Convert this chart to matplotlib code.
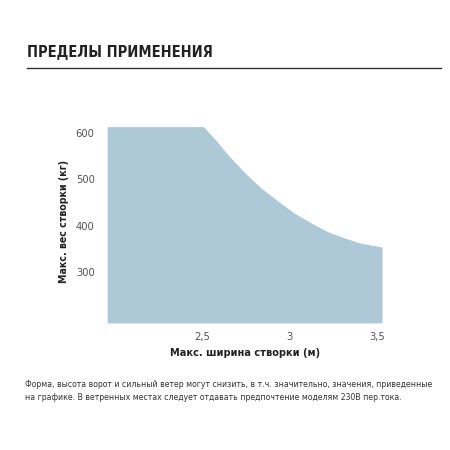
import matplotlib
matplotlib.use("Agg")
import matplotlib.pyplot as plt

# ── data ────────────────────────────────────────────────────────────────────
WIDTH_M = [1.96, 2.51, 2.58, 2.65, 2.75, 2.84, 2.94, 3.03, 3.13, 3.22, 3.32,
           3.41, 3.53]
WEIGHT_KG = [614, 614, 585, 553, 513, 481, 452, 427, 405, 387, 373, 362, 354]
FLOOR_KG = 190

X_TICKS = [2.5, 3.0, 3.5]
X_TICK_LABELS = ["2,5", "3", "3,5"]
Y_TICKS = [300, 400, 500, 600]
Y_TICK_LABELS = ["300", "400", "500", "600"]

plt.rcParams["font.family"] = ["DejaVu Sans"]
plt.rcParams["font.stretch"] = "condensed"

fig = plt.figure(figsize=(4.5, 4.5), dpi=100)

# ── title + rule ────────────────────────────────────────────────────────────
fig.text(27 / 450, 1 - 53 / 450, "ПРЕДЕЛЫ ПРИМЕНЕНИЯ", ha="left", va="center",
         fontsize=10.5, fontweight="bold", color="#222222")
fig.add_artist(plt.Line2D([27 / 450, 441 / 450], [1 - 68 / 450, 1 - 68 / 450],
                          color="#333333", linewidth=1.0))

# ── chart area ──────────────────────────────────────────────────────────────
# x: 2.5 -> 201.7px, 3.5 -> 376.7px ; y: 600 -> 133px, 300 -> 272px
x0, x1 = 1.90, 3.60
y0, y1 = 180, 640
px = lambda v: 201.7 + (v - 2.5) * 175
py = lambda v: 272 - (v - 300) * 0.463
left, right = px(x0) / 450, px(x1) / 450
bottom, top = 1 - py(y0) / 450, 1 - py(y1) / 450
ax = fig.add_axes([left, bottom, right - left, top - bottom])

ax.fill_between(WIDTH_M, WEIGHT_KG, FLOOR_KG, color="#adc8d6", linewidth=0)
ax.set_xlim(x0, x1)
ax.set_ylim(y0, y1)

for s in ax.spines.values():
    s.set_visible(False)
ax.set_xticks(X_TICKS)
ax.set_xticklabels(X_TICK_LABELS)
ax.set_yticks(Y_TICKS)
ax.set_yticklabels(Y_TICK_LABELS)
ax.tick_params(length=0, labelsize=8, colors="#555555")
ax.tick_params(axis="x", pad=3)
ax.tick_params(axis="y", pad=1.5)

ax.set_xlabel("Макс. ширина створки (м)", fontsize=7.8, fontweight="bold",
              color="#222222", labelpad=4.5)
ax.set_ylabel("Макс. вес створки (кг)", fontsize=7.6, fontweight="bold",
              color="#222222", labelpad=5)

# ── footnote ────────────────────────────────────────────────────────────────
fig.text(25 / 450, 1 - 391 / 450,
         "Форма, высота ворот и сильный ветер могут снизить, в т.ч. значительно, значения, приведенные\n"
         "на графике. В ветренных местах следует отдавать предпочтение моделям 230В пер.тока.",
         ha="left", va="center", fontsize=6.2, color="#333333", linespacing=1.6)

fig.savefig("out.png", dpi=100)
